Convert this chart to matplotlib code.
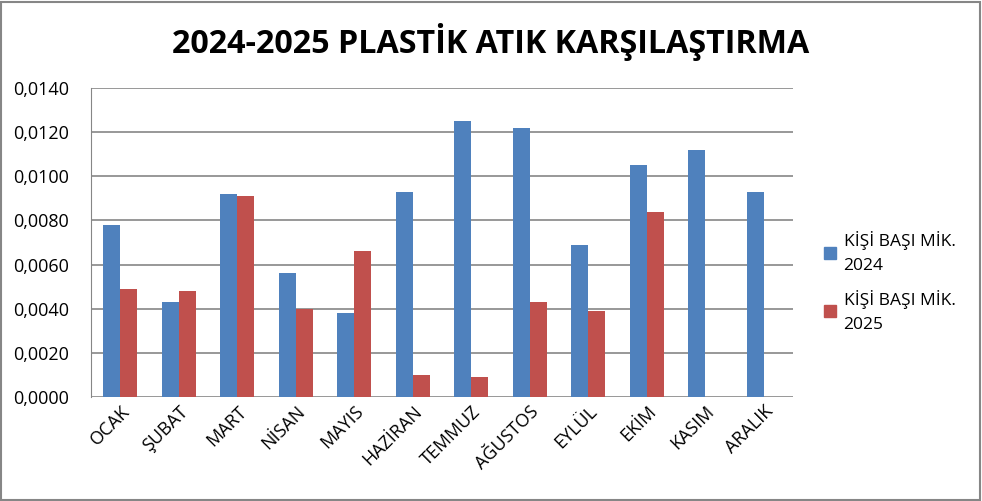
import matplotlib.pyplot as plt
from matplotlib.patches import Rectangle, Patch
from matplotlib.ticker import FuncFormatter
import numpy as np

plt.rcParams['font.family'] = ['Open Sans', 'DejaVu Sans']

aylar = ['OCAK', 'ŞUBAT', 'MART', 'NİSAN', 'MAYIS', 'HAZİRAN', 'TEMMUZ',
         'AĞUSTOS', 'EYLÜL', 'EKİM', 'KASIM', 'ARALIK']
mik_2024 = [0.0078, 0.0043, 0.0092, 0.0056, 0.0038, 0.0093, 0.0125,
            0.0122, 0.0069, 0.0105, 0.0112, 0.0093]
mik_2025 = [0.0049, 0.0048, 0.0091, 0.0040, 0.0066, 0.0010, 0.0009,
            0.0043, 0.0039, 0.0084, np.nan, np.nan]
seriler = ['KİŞİ BAŞI MİK.\n2024', 'KİŞİ BAŞI MİK.\n2025']

mavi = '#4f81bd'
kirmizi = '#c0504d'

fig = plt.figure(figsize=(9.82, 5.01), dpi=100)
ax = fig.add_axes([91/982, 1 - 397/501, 702/982, 309/501])

x = np.arange(len(aylar))
w = 0.29
ax.bar(x - w/2, mik_2024, w, color=mavi, zorder=3)
ax.bar(x + w/2, mik_2025, w, color=kirmizi, zorder=3)

ax.set_xlim(-0.5, len(aylar) - 0.5)
ax.set_ylim(0, 0.014)
ax.set_yticks(np.arange(0, 0.0141, 0.002))
ax.yaxis.set_major_formatter(FuncFormatter(lambda v, p: f'{v:.4f}'.replace('.', ',')))
ax.grid(axis='y', color='#868686', linewidth=1.2, zorder=0)
for s in ['top', 'right', 'bottom']:
    ax.spines[s].set_visible(False)
ax.spines['left'].set_color('#868686')
ax.tick_params(axis='y', length=0, labelsize=13, pad=16)
ax.tick_params(axis='x', length=0, labelsize=13, pad=4)
ax.set_xticks(x)
ax.set_xticklabels(aylar, rotation=45, ha='right', rotation_mode='anchor')

fig.text(0.5, 1 - 42/501, '2024-2025 PLASTİK ATIK KARŞILAŞTIRMA', ha='center', va='center',
         fontsize=23.2, fontweight='bold')

handles = [Patch(color=mavi), Patch(color=kirmizi)]
leg = fig.legend(handles, seriler, loc='center left', bbox_to_anchor=(808/982, 1 - 282/501),
                 frameon=False, fontsize=12.5, handlelength=0.7, handleheight=0.7,
                 handletextpad=0.45, labelspacing=0.9)
for t in leg.get_texts():
    t.set_linespacing(1.65)

fig.patches.append(Rectangle((0.001, 0.001), 0.997, 0.996, transform=fig.transFigure,
                             fill=False, edgecolor='#868686', linewidth=1.5))

fig.savefig('out.png', dpi=100)
